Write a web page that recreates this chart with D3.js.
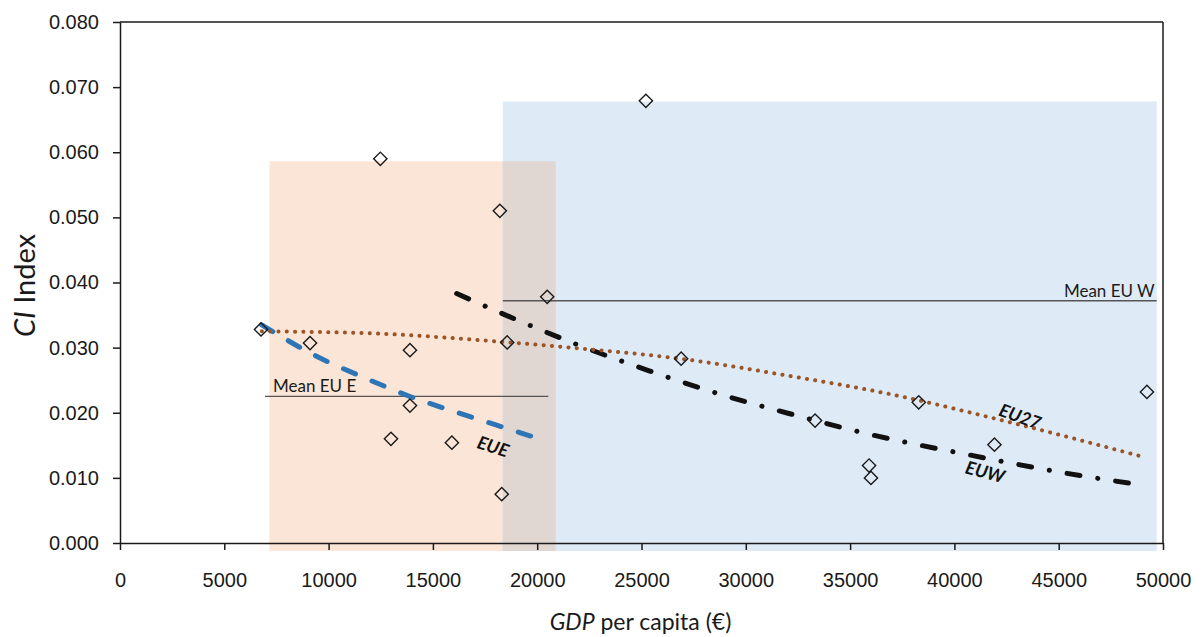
<!DOCTYPE html>
<html>
<head>
<meta charset="utf-8">
<script src="https://cdn.jsdelivr.net/npm/d3@7"></script>
<style>
  body { margin: 0; background: #fff; }
  svg { font-family: Lato, "Open Sans", sans-serif; }
  .axis text { font-size: 20px; fill: #1a1a1a; }
  .axis path, .axis line { stroke: #1a1a1a; stroke-width: 1.5; }
</style>
</head>
<body>
<div id="chart"></div>
<script>
// GDP per capita (EUR) and CI index per country
var gdp = [6760, 9110, 12480, 12990, 13900, 13900, 15910, 18210, 18300, 18560, 20480, 25210, 26900, 33320, 35910, 36000, 38290, 41920, 49230];
var ci  = [0.0328, 0.0307, 0.0590, 0.0160, 0.0296, 0.0211, 0.0154, 0.0510, 0.0075, 0.0308, 0.0378, 0.0679, 0.0283, 0.0188, 0.0119, 0.0100, 0.0216, 0.0151, 0.0232];

// trend lines
var eu27Trend = [[6800, 0.0325], [12000, 0.0322], [18250, 0.0309], [22300, 0.0298], [27100, 0.0282], [32000, 0.0257], [36700, 0.0230], [42200, 0.0189], [49200, 0.0131]];
var euwTrend  = [[16140, 0.0383], [19000, 0.0343], [22050, 0.0303], [25400, 0.0264], [28920, 0.0227], [32400, 0.0196], [35920, 0.0167], [40600, 0.0136], [45380, 0.0107], [48980, 0.0089]];
var eueTrend  = [[6790, 0.0335], [9590, 0.0284], [11700, 0.0254], [13900, 0.0225], [16200, 0.0200], [18540, 0.0176], [20290, 0.0158]];

var trendLabels = ["EU27", "EUW", "EUE"];

// shaded groups: GDP range and top CI
var groupRanges = [[7160, 20890, 0.0586], [18350, 49700, 0.0678]];
var groupColors = ["#fbe5d6", "#deebf7"];

// mean lines
var meanLabels = ["Mean EU E", "Mean EU W"];
var meanValues = [0.0225, 0.0372];
var meanRanges = [[6950, 20530], [18350, 49700]];

var xTicks = d3.range(0, 50001, 5000);
var yTicks = d3.range(0, 0.0801, 0.01);

var width = 1203, height = 637;
var mLeft = 120, mRight = 1163, mTop = 22, mBottom = 543;

var svg = d3.select("#chart").append("svg")
  .attr("width", width)
  .attr("height", height);

var x = d3.scaleLinear().domain([0, 50000]).range([mLeft, mRight]);
var y = d3.scaleLinear().domain([0, 0.08]).range([mBottom, mTop]);

// shaded rectangles
svg.selectAll("rect.group")
  .data(groupRanges)
  .enter().append("rect")
  .attr("class", "group")
  .attr("x", d => x(d[0]))
  .attr("y", d => y(d[2]))
  .attr("width", d => x(d[1]) - x(d[0]))
  .attr("height", d => y(0) + 8 - y(d[2]))
  .attr("fill", (d, i) => groupColors[i]);

// overlap of both groups
var ov0 = Math.max(groupRanges[0][0], groupRanges[1][0]);
var ov1 = Math.min(groupRanges[0][1], groupRanges[1][1]);
var ovTop = Math.min(groupRanges[0][2], groupRanges[1][2]);
svg.append("rect")
  .attr("x", x(ov0))
  .attr("y", y(ovTop))
  .attr("width", x(ov1) - x(ov0))
  .attr("height", y(0) + 8 - y(ovTop))
  .attr("fill", "#e0d7d2");

// frame
svg.append("line").attr("x1", mLeft).attr("x2", mRight).attr("y1", mTop).attr("y2", mTop)
  .attr("stroke", "#1a1a1a").attr("stroke-width", 1.5);
svg.append("line").attr("x1", mRight).attr("x2", mRight).attr("y1", mTop).attr("y2", mBottom)
  .attr("stroke", "#1a1a1a").attr("stroke-width", 1.5);

// axes
svg.append("g")
  .attr("class", "axis")
  .attr("transform", "translate(0," + mBottom + ")")
  .call(d3.axisBottom(x).tickValues(xTicks).tickFormat(d3.format("d")).tickSize(7).tickPadding(23).tickSizeOuter(0));

svg.append("g")
  .attr("class", "axis")
  .attr("transform", "translate(" + mLeft + ",0)")
  .call(d3.axisLeft(y).tickValues(yTicks).tickFormat(d3.format(".3f")).tickSize(7).tickPadding(14).tickSizeOuter(0));

// mean lines
meanValues.forEach(function(v, i) {
  svg.append("line")
    .attr("x1", x(meanRanges[i][0])).attr("x2", x(meanRanges[i][1]))
    .attr("y1", y(v)).attr("y2", y(v))
    .attr("stroke", "#555").attr("stroke-width", 1.3);
});
svg.append("text")
  .attr("x", x(meanRanges[0][0]) + 8).attr("y", y(meanValues[0]) - 4)
  .attr("font-size", 17).attr("fill", "#1a1a1a")
  .text(meanLabels[0]);
svg.append("text")
  .attr("x", x(meanRanges[1][1]) - 2).attr("y", y(meanValues[1]) - 4)
  .attr("text-anchor", "end")
  .attr("font-size", 17).attr("fill", "#1a1a1a")
  .text(meanLabels[1]);

// trend lines
var line = d3.line().x(d => x(d[0])).y(d => y(d[1])).curve(d3.curveMonotoneX);

svg.append("path").datum(eueTrend)
  .attr("d", line).attr("fill", "none")
  .attr("stroke", "#2e75b6").attr("stroke-width", 5)
  .attr("stroke-linecap", "round").attr("stroke-dasharray", "13 18");

svg.append("path").datum(euwTrend)
  .attr("d", line).attr("fill", "none")
  .attr("stroke", "#111").attr("stroke-width", 5)
  .attr("stroke-linecap", "round").attr("stroke-dasharray", "13 18 0.1 18");

svg.append("path").datum(eu27Trend)
  .attr("d", line).attr("fill", "none")
  .attr("stroke", "#9a5426").attr("stroke-width", 4)
  .attr("stroke-linecap", "round").attr("stroke-dasharray", "0.1 8.2");

// points
var diamond = d3.symbol().type(d3.symbolSquare).size(88);
svg.selectAll("path.pt")
  .data(gdp)
  .enter().append("path")
  .attr("class", "pt")
  .attr("d", diamond)
  .attr("transform", (d, i) => "translate(" + x(d) + "," + y(ci[i]) + ") rotate(45)")
  .attr("fill", "none")
  .attr("stroke", "#1a1a1a")
  .attr("stroke-width", 1.4);

// trend labels (centre GDP, centre CI, angle)
var labelPos = [[43150, 0.0194, 20], [41470, 0.0109, 15], [17880, 0.0148, 18]];
labelPos.forEach(function(p, i) {
  svg.append("text")
    .attr("transform", "translate(" + x(p[0]) + "," + y(p[1]) + ") rotate(" + p[2] + ")")
    .attr("text-anchor", "middle")
    .attr("dy", "0.35em")
    .attr("font-size", 18).attr("font-weight", "bold").attr("font-style", "italic")
    .attr("fill", "#111")
    .text(trendLabels[i]);
});

// axis titles
var xt = svg.append("text")
  .attr("x", (mLeft + mRight) / 2 - 1).attr("y", 630)
  .attr("text-anchor", "middle").attr("font-size", 23).attr("fill", "#1a1a1a");
xt.append("tspan").attr("font-style", "italic").text("GDP");
xt.append("tspan").text(" per capita (€)");

var yt = svg.append("text")
  .attr("transform", "translate(35," + ((mTop + mBottom) / 2 + 3) + ") rotate(-90)")
  .attr("text-anchor", "middle").attr("font-size", 29).attr("fill", "#1a1a1a");
yt.append("tspan").attr("font-style", "italic").text("CI");
yt.append("tspan").text(" Index");
</script>
</body>
</html>
